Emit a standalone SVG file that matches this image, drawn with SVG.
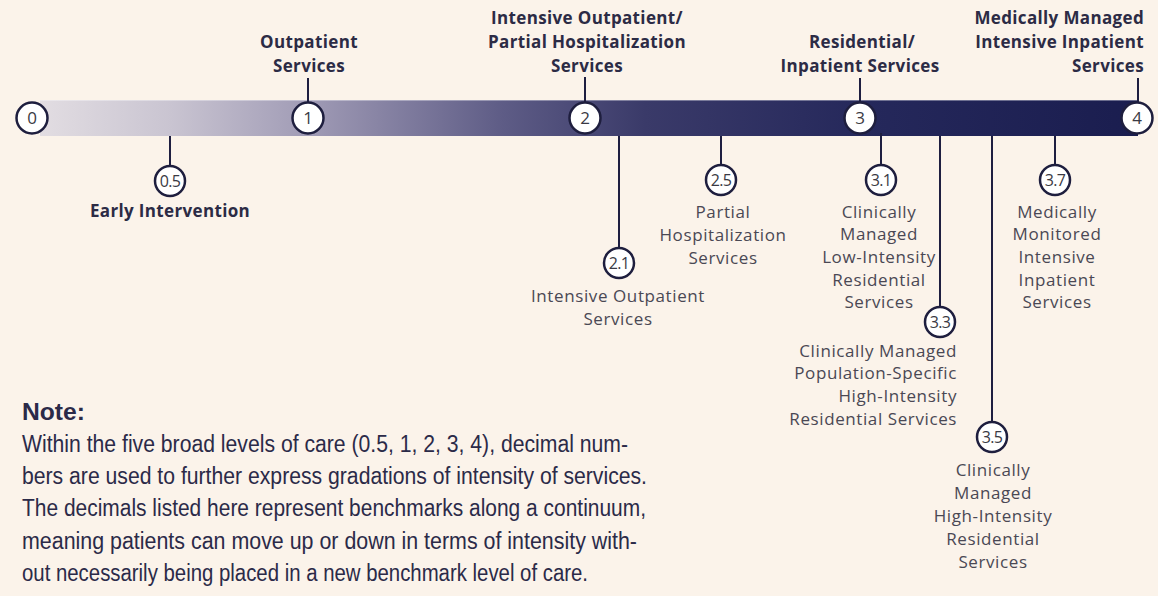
<svg xmlns="http://www.w3.org/2000/svg" width="1158" height="596" viewBox="0 0 1158 596">
  <defs>
    <linearGradient id="barGrad" x1="40" y1="0" x2="1140" y2="0" gradientUnits="userSpaceOnUse">
      <stop offset="0" stop-color="#e2dde2"/>
      <stop offset="0.12" stop-color="#c9c4d1"/>
      <stop offset="0.25" stop-color="#9e99b4"/>
      <stop offset="0.42" stop-color="#5e5c86"/>
      <stop offset="0.55" stop-color="#3a3a69"/>
      <stop offset="0.75" stop-color="#25285b"/>
      <stop offset="1" stop-color="#1a1d4f"/>
    </linearGradient>
    <style>
      .bg { fill: #fbf3ea; }
      .lvl { fill: #ffffff; stroke: #1e1e3e; stroke-width: 2.5; }
      .num { font-family: "Open Sans", Lato, sans-serif; font-size: 17px; fill: #3a3a44; text-anchor: middle; }
      .dnum { font-family: "Open Sans", Lato, sans-serif; font-size: 16px; letter-spacing: -0.6px; fill: #3a3a44; text-anchor: middle; }
      .head { font-family: "Open Sans", Lato, sans-serif; font-weight: bold; font-size: 17px; letter-spacing: 0.35px; fill: #2c2b45; text-anchor: middle; }
      .sub { font-family: "Open Sans", Lato, sans-serif; font-size: 17px; letter-spacing: 0.6px; fill: #4a4854; text-anchor: middle; }
      .head.end, .sub.end { text-anchor: end; }
      .note { font-family: "Liberation Sans Narrow", "Liberation Sans", sans-serif; font-size: 23px; fill: #2b2a48; }
      .note-title { font-weight: bold; }
      .conn line { stroke: #1e1e40; stroke-width: 2; }
    </style>
  </defs>

  <rect class="bg" x="0" y="0" width="1158" height="596"/>

  <!-- continuum bar -->
  <rect id="bar" x="40" y="100" width="1098" height="36" fill="url(#barGrad)"/>
  <line x1="40" y1="100.5" x2="1138" y2="100.5" stroke="#ffffff" stroke-opacity="0.35" stroke-width="1"/>

  <!-- leader lines -->
  <g id="connectors" class="conn">
    <line x1="308" y1="78" x2="308" y2="103"/>
    <line x1="585" y1="77" x2="585" y2="103"/>
    <line x1="860" y1="78" x2="860" y2="103"/>
    <line x1="1138" y1="78" x2="1138" y2="103"/>
    <line x1="170" y1="136" x2="170" y2="166"/>
    <line x1="619" y1="136" x2="619" y2="248"/>
    <line x1="721" y1="136" x2="721" y2="165"/>
    <line x1="881" y1="133" x2="881" y2="165"/>
    <line x1="940" y1="136" x2="940" y2="307"/>
    <line x1="992" y1="136" x2="992" y2="422"/>
    <line x1="1055" y1="136" x2="1055" y2="165"/>
  </g>

  <!-- broad levels on the bar -->
  <g id="level-0">
    <circle class="lvl" cx="32" cy="118" r="15.5"/>
    <text class="num" x="32" y="124">0</text>
  </g>
  <g id="level-1">
    <circle class="lvl" cx="308" cy="118" r="15.5"/>
    <text class="num" x="308" y="124">1</text>
    <text class="head" x="309" y="48">Outpatient</text>
    <text class="head" x="309" y="72">Services</text>
  </g>
  <g id="level-2">
    <circle class="lvl" cx="585" cy="118" r="15.5"/>
    <text class="num" x="585" y="124">2</text>
    <text class="head" x="587" y="24">Intensive Outpatient/</text>
    <text class="head" x="587" y="48">Partial Hospitalization</text>
    <text class="head" x="587" y="72">Services</text>
  </g>
  <g id="level-3">
    <circle class="lvl" cx="860" cy="118" r="15.5"/>
    <text class="num" x="860" y="124">3</text>
    <text class="head" x="862" y="48">Residential/</text>
    <text class="head" x="860" y="72">Inpatient Services</text>
  </g>
  <g id="level-4">
    <circle class="lvl" cx="1137" cy="118" r="15.5"/>
    <text class="num" x="1137" y="124">4</text>
    <text class="head end" x="1144" y="24">Medically Managed</text>
    <text class="head end" x="1144" y="48">Intensive Inpatient</text>
    <text class="head end" x="1144" y="72">Services</text>
  </g>

  <!-- decimal benchmarks below the bar -->
  <g id="level-0-5">
    <circle class="lvl" cx="170" cy="181" r="15"/>
    <text class="dnum" x="170" y="186.5">0.5</text>
    <text class="head" x="170" y="217">Early Intervention</text>
  </g>
  <g id="level-2-1">
    <circle class="lvl" cx="619" cy="263" r="15"/>
    <text class="dnum" x="619" y="268.5">2.1</text>
    <text class="sub" x="618" y="302">Intensive Outpatient</text>
    <text class="sub" x="618" y="325">Services</text>
  </g>
  <g id="level-2-5">
    <circle class="lvl" cx="721" cy="180" r="15"/>
    <text class="dnum" x="721" y="185.5">2.5</text>
    <text class="sub" x="723" y="218">Partial</text>
    <text class="sub" x="723" y="241">Hospitalization</text>
    <text class="sub" x="723" y="264">Services</text>
  </g>
  <g id="level-3-1">
    <circle class="lvl" cx="881" cy="180" r="15"/>
    <text class="dnum" x="881" y="185.5">3.1</text>
    <text class="sub" x="879" y="218">Clinically</text>
    <text class="sub" x="879" y="240">Managed</text>
    <text class="sub" x="879" y="263">Low-Intensity</text>
    <text class="sub" x="879" y="286">Residential</text>
    <text class="sub" x="879" y="308">Services</text>
  </g>
  <g id="level-3-3">
    <circle class="lvl" cx="940" cy="322" r="15"/>
    <text class="dnum" x="940" y="327.5">3.3</text>
    <text class="sub end" x="957" y="357">Clinically Managed</text>
    <text class="sub end" x="957" y="379">Population-Specific</text>
    <text class="sub end" x="957" y="402">High-Intensity</text>
    <text class="sub end" x="957" y="425">Residential Services</text>
  </g>
  <g id="level-3-5">
    <circle class="lvl" cx="992" cy="437" r="15"/>
    <text class="dnum" x="992" y="442.5">3.5</text>
    <text class="sub" x="993" y="476">Clinically</text>
    <text class="sub" x="993" y="499">Managed</text>
    <text class="sub" x="993" y="522">High-Intensity</text>
    <text class="sub" x="993" y="545">Residential</text>
    <text class="sub" x="993" y="568">Services</text>
  </g>
  <g id="level-3-7">
    <circle class="lvl" cx="1055" cy="180" r="15"/>
    <text class="dnum" x="1055" y="185.5">3.7</text>
    <text class="sub" x="1057" y="218">Medically</text>
    <text class="sub" x="1057" y="240">Monitored</text>
    <text class="sub" x="1057" y="263">Intensive</text>
    <text class="sub" x="1057" y="286">Inpatient</text>
    <text class="sub" x="1057" y="308">Services</text>
  </g>

  <!-- explanatory note -->
  <g id="note">
    <text class="note note-title" x="22" y="420" textLength="63" lengthAdjust="spacingAndGlyphs">Note:</text>
    <text class="note" x="22" y="452" textLength="606" lengthAdjust="spacingAndGlyphs">Within the five broad levels of care (0.5, 1, 2, 3, 4), decimal num-</text>
    <text class="note" x="22" y="484" textLength="625" lengthAdjust="spacingAndGlyphs">bers are used to further express gradations of intensity of services.</text>
    <text class="note" x="22" y="516" textLength="624" lengthAdjust="spacingAndGlyphs">The decimals listed here represent benchmarks along a continuum,</text>
    <text class="note" x="22" y="549" textLength="615" lengthAdjust="spacingAndGlyphs">meaning patients can move up or down in terms of intensity with-</text>
    <text class="note" x="22" y="581" textLength="566" lengthAdjust="spacingAndGlyphs">out necessarily being placed in a new benchmark level of care.</text>
  </g>
</svg>
